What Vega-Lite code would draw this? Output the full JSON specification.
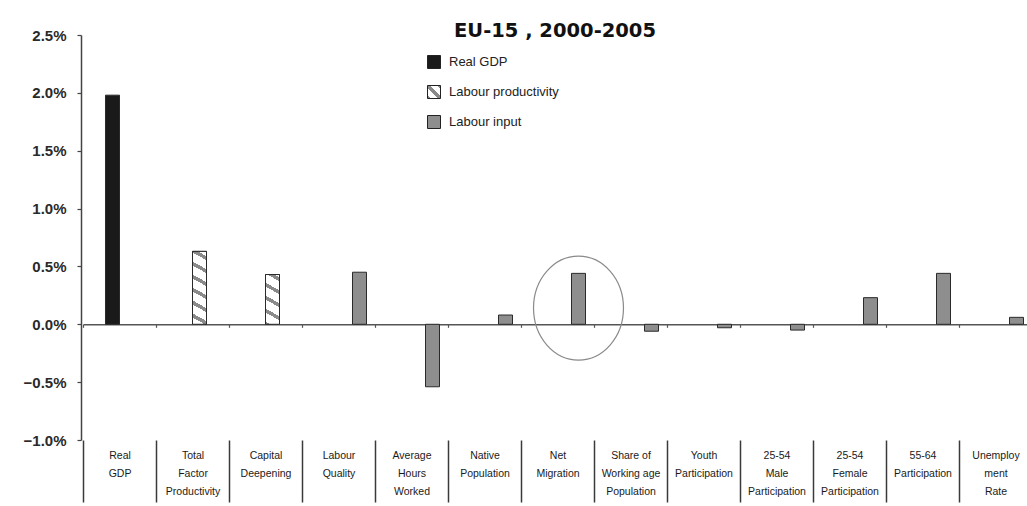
{
  "$schema": "https://vega.github.io/schema/vega-lite/v6.json",
  "width": 944,
  "height": 405,
  "autosize": "none",
  "padding": {"left": 83, "top": 35, "right": 0, "bottom": 66},
  "background": "white",
  "config": {"view": {"stroke": null}, "font": "Liberation Sans"},
  "title": {"text": "EU-15 , 2000-2005", "font": "DejaVu Sans", "fontSize": 19.5, "fontWeight": "bold", "color": "#111111", "anchor": "middle", "offset": -13},
  "datasets": {
    "bars": [
      {"category": "Real|GDP", "series": "Real GDP", "value": 0.0198},
      {"category": "Total|Factor|Productivity", "series": "Labour productivity", "value": 0.0063},
      {"category": "Capital|Deepening", "series": "Labour productivity", "value": 0.0043},
      {"category": "Labour|Quality", "series": "Labour input", "value": 0.0045},
      {"category": "Average|Hours|Worked", "series": "Labour input", "value": -0.0054},
      {"category": "Native|Population", "series": "Labour input", "value": 0.0008},
      {"category": "Net|Migration", "series": "Labour input", "value": 0.0044},
      {"category": "Share of|Working age|Population", "series": "Labour input", "value": -0.0006},
      {"category": "Youth|Participation", "series": "Labour input", "value": -0.0003},
      {"category": "25-54|Male|Participation", "series": "Labour input", "value": -0.0005},
      {"category": "25-54|Female|Participation", "series": "Labour input", "value": 0.0023},
      {"category": "55-64|Participation", "series": "Labour input", "value": 0.0044},
      {"category": "Unemploy|ment|Rate", "series": "Labour input", "value": 0.0006}
    ],
    "highlight": [
      {"category": "Net|Migration", "series": "Labour input", "value": 0.0014}
    ]
  },
  "layer": [
    {
      "data": {"name": "bars"},
      "mark": {"type": "bar", "stroke": "#2a2a2a", "strokeWidth": 1},
      "encoding": {
        "x": {
          "field": "category", "type": "nominal",
          "scale": {"domain": ["Real|GDP", "Total|Factor|Productivity", "Capital|Deepening", "Labour|Quality", "Average|Hours|Worked", "Native|Population", "Net|Migration", "Share of|Working age|Population", "Youth|Participation", "25-54|Male|Participation", "25-54|Female|Participation", "55-64|Participation", "Unemploy|ment|Rate"], "range": [0, 949], "paddingInner": 0, "paddingOuter": 0},
          "axis": {"orient": "bottom", "title": null, "domain": false, "ticks": true, "tickBand": "extent", "tickSize": 62, "tickColor": "#3a3a3a", "tickWidth": 1.5, "labelAngle": 0, "labelExpr": "split(datum.label, '|')", "labelBaseline": "top", "labelPadding": -52, "labelLineHeight": 18, "labelFontSize": 10.5, "labelColor": "#1a1a1a", "labelFont": "Liberation Sans", "labelOverlap": false, "labelFlush": false, "grid": false}
        },
        "xOffset": {"field": "series", "type": "nominal", "scale": {"domain": ["blank", "Real GDP", "Labour productivity", "Labour input"], "paddingInner": 0, "paddingOuter": 0.607}},
        "y": {
          "field": "value", "type": "quantitative",
          "scale": {"domain": [-0.01, 0.025], "nice": false, "zero": false},
          "axis": {"offset": 2, "values": [-0.01, -0.005, 0, 0.005, 0.01, 0.015, 0.02, 0.025], "format": ".1%", "grid": false, "title": null, "tickSize": 4, "tickColor": "#444444", "tickWidth": 1.2, "domainColor": "#444444", "domainWidth": 1.5, "labelFont": "Liberation Sans", "labelFontSize": 15, "labelFontWeight": "bold", "labelColor": "#2a2a2a", "labelPadding": 11}
        },
        "color": {
          "field": "series", "type": "nominal",
          "scale": {"domain": ["Real GDP", "Labour productivity", "Labour input"], "range": ["#1a1a1a", {"expr": "{gradient: 'linear', x1: 1, y1: 0, x2: 0, y2: 1, stops: [{offset: 0, color: '#8a8a8a'}, {offset: 0.12, color: '#8a8a8a'}, {offset: 0.12, color: '#ffffff'}, {offset: 0.4, color: '#ffffff'}, {offset: 0.4, color: '#8a8a8a'}, {offset: 0.6, color: '#8a8a8a'}, {offset: 0.6, color: '#ffffff'}, {offset: 0.88, color: '#ffffff'}, {offset: 0.88, color: '#8a8a8a'}, {offset: 1, color: '#8a8a8a'}]}"}, "#8e8e8e"]},
          "legend": {
            "orient": "none", "legendX": 344, "legendY": 20, "title": null, "direction": "vertical",
            "symbolType": "square", "symbolSize": 169, "symbolStrokeColor": "#222222", "symbolStrokeWidth": 1,
            "labelFont": "Liberation Sans", "labelFontSize": 13, "labelColor": "#222222", "labelOffset": 8, "rowPadding": 12, "padding": 0,
            "encoding": {"symbols": {
              "stroke": {"value": "#222222"},
              "strokeWidth": {"value": 1}
            }}
          }
        }
      }
    },
    {
      "data": {"name": "bars"},
      "transform": [{"filter": "datum.category === 'Total|Factor|Productivity'"}],
      "mark": {"type": "bar", "stroke": "#2a2a2a", "strokeWidth": 1, "fill": {"gradient": "linear", "x1": 1, "y1": 0, "x2": 0.883, "y2": 1.094, "stops": [
        {"offset": 0, "color": "#ffffff"}, {"offset": 0.06, "color": "#ffffff"}, {"offset": 0.06, "color": "#8a8a8a"}, {"offset": 0.11, "color": "#8a8a8a"}, {"offset": 0.11, "color": "#ffffff"},
        {"offset": 0.221, "color": "#ffffff"}, {"offset": 0.221, "color": "#8a8a8a"}, {"offset": 0.271, "color": "#8a8a8a"}, {"offset": 0.271, "color": "#ffffff"},
        {"offset": 0.382, "color": "#ffffff"}, {"offset": 0.382, "color": "#8a8a8a"}, {"offset": 0.432, "color": "#8a8a8a"}, {"offset": 0.432, "color": "#ffffff"},
        {"offset": 0.543, "color": "#ffffff"}, {"offset": 0.543, "color": "#8a8a8a"}, {"offset": 0.593, "color": "#8a8a8a"}, {"offset": 0.593, "color": "#ffffff"},
        {"offset": 0.704, "color": "#ffffff"}, {"offset": 0.704, "color": "#8a8a8a"}, {"offset": 0.754, "color": "#8a8a8a"}, {"offset": 0.754, "color": "#ffffff"},
        {"offset": 0.865, "color": "#ffffff"}, {"offset": 0.865, "color": "#8a8a8a"}, {"offset": 0.915, "color": "#8a8a8a"}, {"offset": 0.915, "color": "#ffffff"},
        {"offset": 1, "color": "#ffffff"}]}},
      "encoding": {
        "x": {"field": "category", "type": "nominal",
          "axis": {"orient": "top", "offset": -289.3, "title": null, "labels": false, "domain": true, "domainColor": "#555555", "domainWidth": 1.5, "ticks": true, "tickBand": "extent", "tickSize": -3, "tickColor": "#555555", "tickWidth": 1.2, "grid": false}},
        "xOffset": {"field": "series", "type": "nominal"},
        "y": {"field": "value", "type": "quantitative", "axis": null}
      }
    },
    {
      "data": {"name": "bars"},
      "transform": [{"filter": "datum.category === 'Capital|Deepening'"}],
      "mark": {"type": "bar", "stroke": "#2a2a2a", "strokeWidth": 1, "fill": {"gradient": "linear", "x1": 1, "y1": 0, "x2": 0.823, "y2": 1.129, "stops": [
        {"offset": 0, "color": "#ffffff"}, {"offset": 0.05, "color": "#ffffff"}, {"offset": 0.05, "color": "#8a8a8a"}, {"offset": 0.119, "color": "#8a8a8a"}, {"offset": 0.119, "color": "#ffffff"},
        {"offset": 0.276, "color": "#ffffff"}, {"offset": 0.276, "color": "#8a8a8a"}, {"offset": 0.345, "color": "#8a8a8a"}, {"offset": 0.345, "color": "#ffffff"},
        {"offset": 0.501, "color": "#ffffff"}, {"offset": 0.501, "color": "#8a8a8a"}, {"offset": 0.57, "color": "#8a8a8a"}, {"offset": 0.57, "color": "#ffffff"},
        {"offset": 0.727, "color": "#ffffff"}, {"offset": 0.727, "color": "#8a8a8a"}, {"offset": 0.796, "color": "#8a8a8a"}, {"offset": 0.796, "color": "#ffffff"},
        {"offset": 0.953, "color": "#ffffff"}, {"offset": 0.953, "color": "#8a8a8a"}, {"offset": 1, "color": "#8a8a8a"}]}},
      "encoding": {
        "x": {"field": "category", "type": "nominal", "axis": null},
        "xOffset": {"field": "series", "type": "nominal"},
        "y": {"field": "value", "type": "quantitative", "axis": null}
      }
    },
    {
      "data": {"name": "highlight"},
      "mark": {"type": "point", "shape": "M 0 -1 C 0.478 -1 0.865 -0.552 0.865 0 C 0.865 0.552 0.478 1 0 1 C -0.478 1 -0.865 0.552 -0.865 0 C -0.865 -0.552 -0.478 -1 0 -1 Z", "size": 10816, "filled": false, "color": "#8a8a8a", "strokeWidth": 1.2, "opacity": 1},
      "encoding": {
        "x": {"field": "category", "type": "nominal", "axis": null},
        "xOffset": {"field": "series", "type": "nominal"},
        "y": {"field": "value", "type": "quantitative", "axis": null}
      }
    }
  ],
  "resolve": {"axis": {"x": "independent", "y": "independent"}}
}
